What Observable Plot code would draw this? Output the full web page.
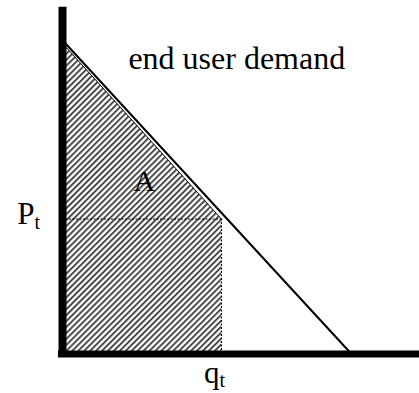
<!DOCTYPE html>
<html>
<head>
<meta charset="utf-8">
<script src="https://cdn.jsdelivr.net/npm/d3@7"></script>
<script src="https://cdn.jsdelivr.net/npm/@observablehq/plot@0.6"></script>
<style>
  html, body { margin: 0; padding: 0; background: #fff; }
</style>
</head>
<body>
<div id="chart"></div>
<script>
// Demand curve (quantity q, price P)
const demandQ = [0, 100];
const demandP = [100, 0];
// Shaded consumer area A (hatched), top edge sits just under the demand line
const areaQ = [0, 55];
const areaP = [99, 43];
// Market point
const priceT = 43;
const quantityT = 55;
// Axis extents
const axisTopP = 110.5;
const axisLeftQ = -1.4;
const axisRightQ = 125;
// Texts
const titleText = "end user demand";
const areaLabel = "A";
const priceLabel = ["P", "t"];
const quantityLabel = ["q", "t"];

const demand = demandQ.map((q, i) => ({q, p: demandP[i]}));
const area = areaQ.map((q, i) => ({q, p: areaP[i]}));
const font = "Liberation Serif, Times New Roman, serif";

const plot = Plot.plot({
  width: 419,
  height: 393,
  margin: 0,
  style: {background: "white", fontFamily: font},
  x: {domain: [0, 100], range: [62, 351], axis: null},
  y: {domain: [0, 100], range: [353.5, 39.7], axis: null},
  marks: [
    Plot.areaY(area, {x: "q", y1: 0, y2: "p", fill: "url(#hatch)"}),
    Plot.line(area, {x: "q", y: "p", stroke: "black", strokeWidth: 1}),
    Plot.line(demand, {x: "q", y: "p", stroke: "black", strokeWidth: 2}),
    Plot.ruleY([priceT], {x1: 0, x2: quantityT, stroke: "black", strokeWidth: 1, strokeDasharray: "2,1.5"}),
    Plot.ruleX([quantityT], {y1: 0, y2: priceT, stroke: "black", strokeWidth: 1.2, strokeDasharray: "2,1.5"}),
    Plot.ruleX([0], {y1: 0, y2: axisTopP, stroke: "black", strokeWidth: 8}),
    Plot.ruleY([0], {x1: axisLeftQ, x2: axisRightQ, stroke: "black", strokeWidth: 7}),
    Plot.text([titleText], {x: 22.8, y: 94.2, text: d => d, textAnchor: "start", fontSize: 32, fontFamily: font, fill: "black"}),
    Plot.text([areaLabel], {x: 24.6, y: 55, text: d => d, textAnchor: "start", fontSize: 30, fontFamily: font, fill: "black"}),
    Plot.text([priceLabel[0]], {x: 0, y: priceT, text: d => d, textAnchor: "end", dx: -28, dy: -5, fontSize: 31, fontFamily: font, fill: "black"}),
    Plot.text([priceLabel[1]], {x: 0, y: priceT, text: d => d, textAnchor: "start", dx: -28, dy: 4, fontSize: 20, fontFamily: font, fill: "black"}),
    Plot.text([quantityLabel[0]], {x: quantityT, y: 0, text: d => d, textAnchor: "end", dx: -2, dy: 19, fontSize: 31, fontFamily: font, fill: "black"}),
    Plot.text([quantityLabel[1]], {x: quantityT, y: 0, text: d => d, textAnchor: "start", dx: -2, dy: 27, fontSize: 20, fontFamily: font, fill: "black"})
  ]
});

const defs = d3.select(plot).insert("defs", ":first-child");
const pat = defs.append("pattern")
  .attr("id", "hatch")
  .attr("patternUnits", "userSpaceOnUse")
  .attr("width", 4.2)
  .attr("height", 4.2)
  .attr("patternTransform", "rotate(45)");
pat.append("rect").attr("width", 4.2).attr("height", 4.2).attr("fill", "white");
pat.append("line")
  .attr("x1", 1).attr("y1", 0).attr("x2", 1).attr("y2", 4.2)
  .attr("stroke", "#3a3a3a").attr("stroke-width", 1.8);

document.getElementById("chart").append(plot);
</script>
</body>
</html>
